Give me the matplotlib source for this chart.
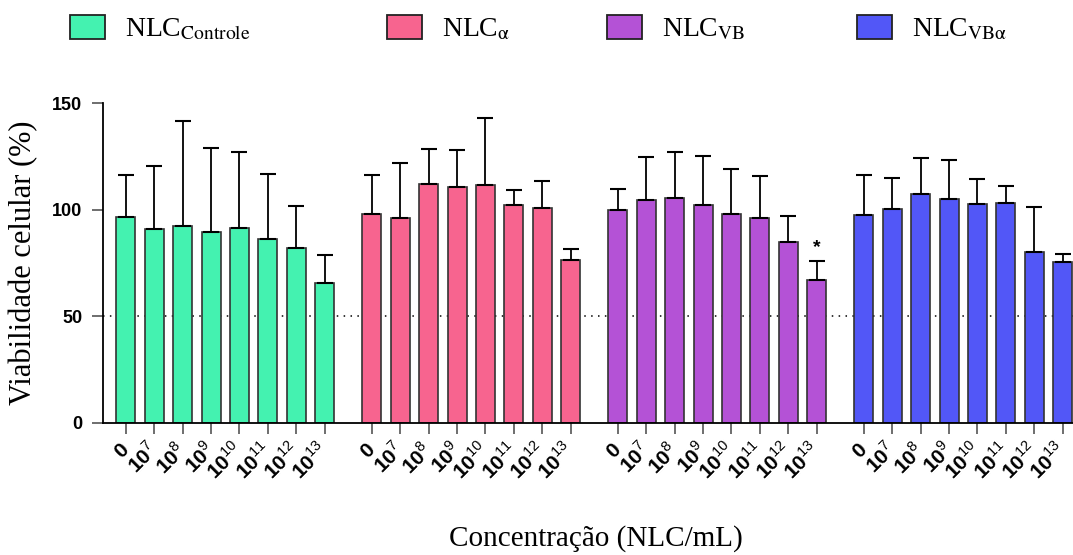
import numpy as np
import matplotlib
matplotlib.use("Agg")
import matplotlib.pyplot as plt
from matplotlib.patches import Patch

plt.rcParams['mathtext.fontset'] = 'custom'
plt.rcParams['mathtext.rm'] = 'Liberation Sans'
plt.rcParams['mathtext.bf'] = 'Liberation Sans:bold'

# cell viability (%) per formulation, mean and upper error
groups = ['NLC$_{\\mathrm{Controle}}$', 'NLC$_{\\mathrm{\\alpha}}$',
          'NLC$_{\\mathrm{VB}}$', 'NLC$_{\\mathrm{VB\\alpha}}$']
colors = ['#44F2B0', '#F7648F', '#B452D6', '#5257F7']
conc_labels = ['0', '7', '8', '9', '10', '11', '12', '13']

controle = [96.4, 90.8, 92.5, 89.7, 91.6, 86.3, 82.3, 65.6]
controle_err = [20.0, 29.7, 49.2, 39.5, 35.4, 30.7, 19.7, 13.0]
alfa = [97.8, 96.3, 111.9, 110.8, 111.6, 102.2, 100.8, 76.4]
alfa_err = [18.7, 25.7, 16.6, 17.4, 31.6, 7.0, 12.6, 5.0]
vb = [99.8, 104.6, 105.5, 102.1, 98.2, 96.3, 85.1, 67.0]
vb_err = [10.0, 20.4, 21.8, 23.3, 21.0, 19.6, 12.0, 9.2]
vba = [97.5, 100.6, 107.2, 104.9, 102.7, 103.1, 80.2, 75.3]
vba_err = [18.9, 14.3, 17.0, 18.4, 11.8, 8.2, 21.2, 4.1]

means = [controle, alfa, vb, vba]
errs = [controle_err, alfa_err, vb_err, vba_err]

fig = plt.figure(figsize=(10.73, 5.55), dpi=100)
ax = fig.add_axes([0.096, 0.238, 0.904, 0.576])

step = len(conc_labels) + 0.67
tick_pos = []
tick_lab = []
for i in range(4):
    x = i * step + np.arange(len(conc_labels))
    ax.bar(x, means[i], width=0.67, color=colors[i], edgecolor='#333333',
           linewidth=1.2, zorder=2)
    ax.errorbar(x, means[i], yerr=[np.zeros(len(x)), errs[i]], fmt='none',
                ecolor='black', elinewidth=1.3, capsize=6, capthick=1.5,
                zorder=3)
    tick_pos.extend(x)
    tick_lab.extend(['$\\mathbf{0}$'] +
                    ['$\\mathbf{10}^{%s}$' % c for c in conc_labels[1:]])

# significance mark on NLC_VB at 10^13
x_star = 2 * step + 7
ax.text(x_star, vb[7] + vb_err[7] + 2, '*', ha='center', va='bottom',
        fontsize=14, fontweight='bold', family='Liberation Sans')

ax.axhline(50, color='black', linestyle=(0, (1, 3.5)), linewidth=1.1, zorder=1)

ax.set_xlim(-0.81, 3 * step + 7.37)
ax.set_ylim(0, 150)
ax.set_yticks([0, 50, 100, 150])
ax.set_yticklabels(['0', '50', '100', '150'], fontsize=13, fontweight='bold',
                   family='Liberation Sans')
ax.set_xticks(tick_pos)
ax.set_xticklabels(tick_lab, fontsize=15, rotation=45, ha='right',
                   va='center', rotation_mode='anchor')
ax.tick_params(axis='x', length=8, width=1.2, color='#555555', pad=9)
ax.tick_params(axis='y', length=8, width=1.2, color='#555555', pad=7)

for s in ['top', 'right']:
    ax.spines[s].set_visible(False)
for s in ['left', 'bottom']:
    ax.spines[s].set_linewidth(1.3)

ax.set_ylabel('Viabilidade celular (%)', family='Liberation Serif',
              fontsize=22, labelpad=10)
fig.text(0.555, 0.006, 'Concentração (NLC/mL)', family='Liberation Serif',
         fontsize=21, ha='center', va='bottom')

# one legend entry per group, placed along the top
leg_x = [70, 387, 607, 857]
for c, name, lx in zip(colors, groups, leg_x):
    h = Patch(facecolor=c, edgecolor='#222222', linewidth=1.3)
    fig.legend([h], [name], loc='center left',
               bbox_to_anchor=(lx / 1073, 1 - 29 / 555),
               frameon=False, borderpad=0, borderaxespad=0,
               handlelength=1.26, handleheight=0.97, handletextpad=0.72,
               prop={'family': 'Liberation Serif', 'size': 20,
                     'math_fontfamily': 'stix'})

fig.savefig('out.png', dpi=100)
